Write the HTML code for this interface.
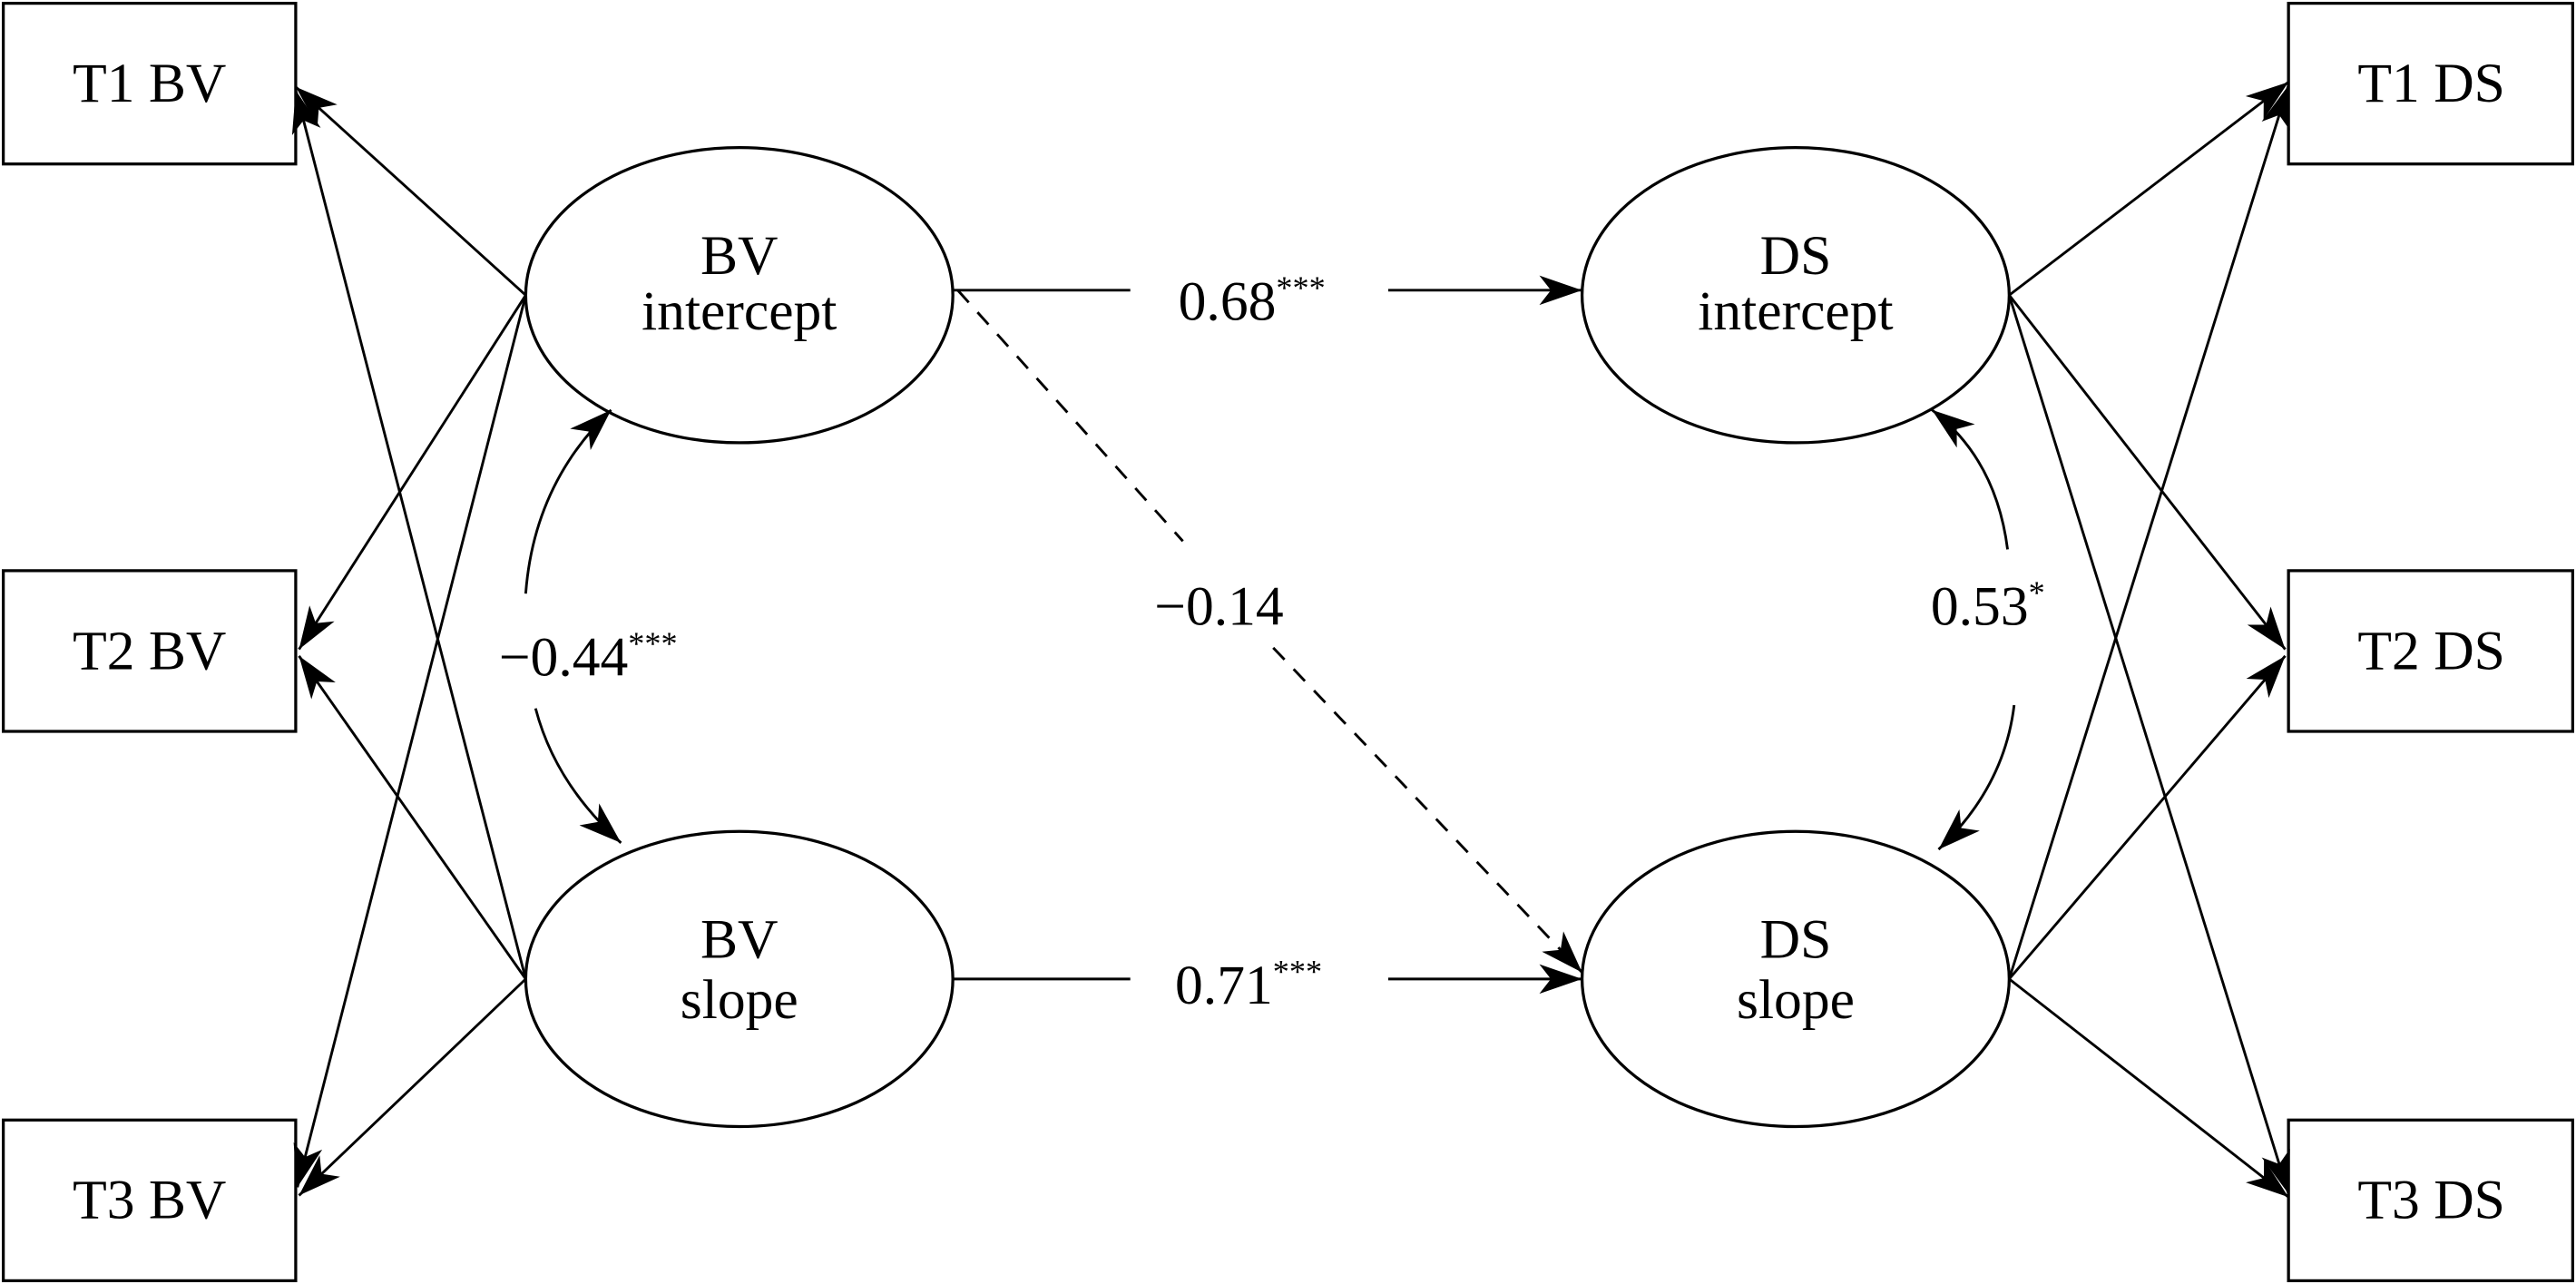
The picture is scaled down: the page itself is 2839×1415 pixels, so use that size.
<!DOCTYPE html>
<html><head><meta charset="utf-8"><style>
html,body{margin:0;padding:0;background:#fff;}
svg{display:block;}
text{font-family:"Liberation Serif",serif;fill:#000;}
</style></head><body>
<svg width="2839" height="1415" viewBox="0 0 1568 783" preserveAspectRatio="none" xmlns="http://www.w3.org/2000/svg">
<defs>
<marker id="a" markerWidth="28" markerHeight="20" refX="26" refY="10" orient="auto" markerUnits="userSpaceOnUse">
<path d="M0,1 L26,10 L0,19 L7,10 Z" fill="#000"/>
</marker>
</defs>
<g fill="none" stroke="#000" stroke-width="1.8">
<rect x="2" y="2" width="178" height="98"/>
<rect x="2" y="348" width="178" height="98"/>
<rect x="2" y="683" width="178" height="98"/>
<rect x="1393" y="2" width="173" height="98"/>
<rect x="1393" y="348" width="173" height="98"/>
<rect x="1393" y="683" width="173" height="98"/>
<ellipse cx="450" cy="180" rx="130" ry="90"/>
<ellipse cx="450" cy="597" rx="130" ry="90"/>
<ellipse cx="1093" cy="180" rx="130" ry="90"/>
<ellipse cx="1093" cy="597" rx="130" ry="90"/>
</g>
<g fill="none" stroke="#000" stroke-width="1.6" marker-end="url(#a)">
<line x1="320" y1="180" x2="180" y2="53"/>
<line x1="320" y1="180" x2="182" y2="396"/>
<line x1="320" y1="180" x2="181" y2="724"/>
<line x1="320" y1="597" x2="180" y2="55"/>
<line x1="320" y1="597" x2="182" y2="400"/>
<line x1="320" y1="597" x2="182" y2="729"/>
<line x1="1223" y1="180" x2="1393" y2="50"/>
<line x1="1223" y1="180" x2="1391" y2="396"/>
<line x1="1223" y1="180" x2="1393" y2="728"/>
<line x1="1223" y1="597" x2="1393" y2="52"/>
<line x1="1223" y1="597" x2="1391" y2="400"/>
<line x1="1223" y1="597" x2="1393" y2="730"/>
<line x1="845" y1="177" x2="963" y2="177"/>
<line x1="845" y1="597" x2="963" y2="597"/>
<line x1="775" y1="395" x2="963" y2="593" stroke-dasharray="10,8"/>
<path d="M320,362 Q325,295 372,250"/>
<path d="M326,432 Q338,478 378,514"/>
<path d="M1222,335 Q1215,280 1176,250"/>
<path d="M1226,430 Q1220,480 1180,518"/>
</g>
<g stroke="#000" stroke-width="1.6">
<line x1="580" y1="177" x2="688" y2="177"/>
<line x1="580" y1="597" x2="688" y2="597"/>
<line x1="583" y1="177" x2="720" y2="330" stroke-dasharray="10,8"/>
</g>
<g font-size="34" text-anchor="middle">
<text x="91" y="62">T1 BV</text>
<text x="91" y="408">T2 BV</text>
<text x="91" y="743">T3 BV</text>
<text x="1480" y="62">T1 DS</text>
<text x="1480" y="408">T2 DS</text>
<text x="1480" y="743">T3 DS</text>
<text x="450" y="167">BV</text>
<text x="450" y="201">intercept</text>
<text x="450" y="584">BV</text>
<text x="450" y="621">slope</text>
<text x="1093" y="167">DS</text>
<text x="1093" y="201">intercept</text>
<text x="1093" y="584">DS</text>
<text x="1093" y="621">slope</text>
<text x="762" y="195">0.68<tspan font-size="20" dy="-13">***</tspan></text>
<text x="760" y="612">0.71<tspan font-size="20" dy="-13">***</tspan></text>
<text x="742" y="381">−0.14</text>
<text x="358" y="412">−0.44<tspan font-size="20" dy="-13">***</tspan></text>
<text x="1210" y="381">0.53<tspan font-size="20" dy="-13">*</tspan></text>
</g>
</svg>
</body></html>
